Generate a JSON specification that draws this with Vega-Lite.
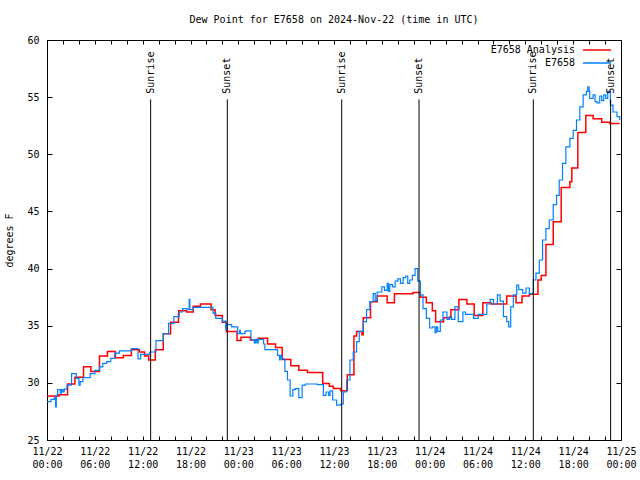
{
  "$schema": "https://vega.github.io/schema/vega-lite/v6.json",
  "width": 574,
  "height": 400,
  "autosize": {"type": "none"},
  "padding": {"left": 47, "top": 40, "right": 19, "bottom": 40},
  "title": {"text": "Dew Point for E7658 on 2024-Nov-22 (time in UTC)", "font": "DejaVu Sans Mono", "fontSize": 10, "fontWeight": "normal", "color": "black", "offset": 10},
  "config": {
    "view": {"stroke": "black", "strokeWidth": 1},
    "font": "DejaVu Sans Mono",
    "axis": {"labelFont": "DejaVu Sans Mono", "labelFontSize": 10, "labelColor": "black", "titleFont": "DejaVu Sans Mono", "titleFontSize": 10, "titleFontWeight": "normal", "titleColor": "black", "tickColor": "black", "domain": false, "grid": false},
    "legend": {"labelFont": "DejaVu Sans Mono", "labelFontSize": 10, "labelColor": "black"}
  },
  "datasets": {
    "analysis": [
      {"t":"2024-11-22T00:00:00Z","v":28.85},{"t":"2024-11-22T01:30:00Z","v":28.95},{"t":"2024-11-22T02:35:00Z","v":29.9},{"t":"2024-11-22T03:30:00Z","v":30.5},
      {"t":"2024-11-22T04:35:00Z","v":31.4},{"t":"2024-11-22T05:30:00Z","v":31.0},{"t":"2024-11-22T06:35:00Z","v":32.35},{"t":"2024-11-22T07:35:00Z","v":32.75},
      {"t":"2024-11-22T08:35:00Z","v":32.2},{"t":"2024-11-22T09:35:00Z","v":32.4},{"t":"2024-11-22T10:35:00Z","v":32.9},{"t":"2024-11-22T11:35:00Z","v":32.7},
      {"t":"2024-11-22T12:15:00Z","v":32.35},{"t":"2024-11-22T12:45:00Z","v":32.0},{"t":"2024-11-22T13:35:00Z","v":32.9},{"t":"2024-11-22T14:35:00Z","v":34.3},
      {"t":"2024-11-22T15:30:00Z","v":35.3},{"t":"2024-11-22T16:30:00Z","v":36.3},{"t":"2024-11-22T17:30:00Z","v":36.2},{"t":"2024-11-22T18:20:00Z","v":36.7},
      {"t":"2024-11-22T19:15:00Z","v":36.9},{"t":"2024-11-22T20:35:00Z","v":36.4},{"t":"2024-11-22T21:05:00Z","v":35.9},{"t":"2024-11-22T22:00:00Z","v":35.3},
      {"t":"2024-11-22T22:30:00Z","v":34.5},{"t":"2024-11-22T23:50:00Z","v":33.7},{"t":"2024-11-23T00:20:00Z","v":34.0},{"t":"2024-11-23T01:30:00Z","v":33.75},
      {"t":"2024-11-23T02:30:00Z","v":33.9},{"t":"2024-11-23T03:40:00Z","v":33.4},{"t":"2024-11-23T04:40:00Z","v":33.1},{"t":"2024-11-23T05:30:00Z","v":32.05},
      {"t":"2024-11-23T06:35:00Z","v":31.5},{"t":"2024-11-23T07:35:00Z","v":31.1},{"t":"2024-11-23T08:40:00Z","v":30.9},{"t":"2024-11-23T10:35:00Z","v":29.95},
      {"t":"2024-11-23T11:25:00Z","v":29.7},{"t":"2024-11-23T11:55:00Z","v":29.5},{"t":"2024-11-23T12:50:00Z","v":29.3},{"t":"2024-11-23T13:40:00Z","v":30.7},
      {"t":"2024-11-23T14:30:00Z","v":34.1},{"t":"2024-11-23T14:50:00Z","v":34.5},{"t":"2024-11-23T15:30:00Z","v":34.2},{"t":"2024-11-23T15:40:00Z","v":35.7},
      {"t":"2024-11-23T16:35:00Z","v":37.1},{"t":"2024-11-23T17:25:00Z","v":37.6},{"t":"2024-11-23T18:40:00Z","v":37.0},{"t":"2024-11-23T19:35:00Z","v":37.8},
      {"t":"2024-11-23T21:55:00Z","v":37.9},{"t":"2024-11-23T22:50:00Z","v":37.5},{"t":"2024-11-23T23:35:00Z","v":37.0},{"t":"2024-11-24T00:20:00Z","v":36.3},
      {"t":"2024-11-24T00:45:00Z","v":35.35},{"t":"2024-11-24T01:45:00Z","v":35.7},{"t":"2024-11-24T02:40:00Z","v":36.4},{"t":"2024-11-24T03:40:00Z","v":37.3},
      {"t":"2024-11-24T04:40:00Z","v":36.9},{"t":"2024-11-24T05:35:00Z","v":35.9},{"t":"2024-11-24T06:40:00Z","v":37.0},{"t":"2024-11-24T07:40:00Z","v":36.9},
      {"t":"2024-11-24T09:40:00Z","v":37.6},{"t":"2024-11-24T10:50:00Z","v":37.0},{"t":"2024-11-24T11:35:00Z","v":37.6},{"t":"2024-11-24T12:30:00Z","v":37.75},
      {"t":"2024-11-24T13:35:00Z","v":39.0},{"t":"2024-11-24T14:00:00Z","v":39.4},{"t":"2024-11-24T14:35:00Z","v":42.1},{"t":"2024-11-24T15:30:00Z","v":44.1},
      {"t":"2024-11-24T16:30:00Z","v":47.1},{"t":"2024-11-24T17:35:00Z","v":47.6},{"t":"2024-11-24T17:50:00Z","v":48.8},{"t":"2024-11-24T18:35:00Z","v":51.9},
      {"t":"2024-11-24T19:35:00Z","v":53.4},{"t":"2024-11-24T20:30:00Z","v":53.1},{"t":"2024-11-24T21:35:00Z","v":52.8},{"t":"2024-11-24T22:35:00Z","v":52.7},
      {"t":"2024-11-24T23:50:00Z","v":52.7}
    ],
    "obs": [
      {"t":"2024-11-22T00:00:00Z","v":28.35},{"t":"2024-11-22T00:30:00Z","v":28.55},{"t":"2024-11-22T00:55:00Z","v":28.7},{"t":"2024-11-22T01:05:00Z","v":27.9},
      {"t":"2024-11-22T01:10:00Z","v":28.9},{"t":"2024-11-22T01:20:00Z","v":29.4},{"t":"2024-11-22T01:40:00Z","v":29.1},{"t":"2024-11-22T01:50:00Z","v":29.4},
      {"t":"2024-11-22T02:00:00Z","v":29.2},{"t":"2024-11-22T02:10:00Z","v":29.45},{"t":"2024-11-22T02:30:00Z","v":29.8},{"t":"2024-11-22T03:05:00Z","v":30.8},
      {"t":"2024-11-22T03:40:00Z","v":30.4},{"t":"2024-11-22T04:00:00Z","v":29.8},{"t":"2024-11-22T04:10:00Z","v":30.1},{"t":"2024-11-22T04:30:00Z","v":30.45},
      {"t":"2024-11-22T05:25:00Z","v":30.8},{"t":"2024-11-22T06:00:00Z","v":31.1},{"t":"2024-11-22T06:35:00Z","v":31.4},{"t":"2024-11-22T07:00:00Z","v":31.7},
      {"t":"2024-11-22T07:30:00Z","v":31.85},{"t":"2024-11-22T08:00:00Z","v":32.15},{"t":"2024-11-22T08:30:00Z","v":32.6},{"t":"2024-11-22T09:05:00Z","v":32.8},
      {"t":"2024-11-22T10:35:00Z","v":33.0},{"t":"2024-11-22T11:25:00Z","v":32.1},{"t":"2024-11-22T11:45:00Z","v":32.5},{"t":"2024-11-22T12:20:00Z","v":32.5},
      {"t":"2024-11-22T12:55:00Z","v":32.7},{"t":"2024-11-22T13:40:00Z","v":33.7},{"t":"2024-11-22T14:35:00Z","v":34.3},{"t":"2024-11-22T15:15:00Z","v":35.2},
      {"t":"2024-11-22T15:55:00Z","v":35.8},{"t":"2024-11-22T16:35:00Z","v":36.2},{"t":"2024-11-22T17:00:00Z","v":36.5},{"t":"2024-11-22T17:35:00Z","v":36.4},
      {"t":"2024-11-22T17:50:00Z","v":37.3},{"t":"2024-11-22T17:55:00Z","v":36.4},{"t":"2024-11-22T18:20:00Z","v":36.6},{"t":"2024-11-22T20:50:00Z","v":36.1},
      {"t":"2024-11-22T21:10:00Z","v":35.65},{"t":"2024-11-22T22:00:00Z","v":35.4},{"t":"2024-11-22T22:25:00Z","v":34.7},{"t":"2024-11-22T22:30:00Z","v":35.1},
      {"t":"2024-11-22T23:10:00Z","v":34.9},{"t":"2024-11-22T23:55:00Z","v":34.3},{"t":"2024-11-23T00:10:00Z","v":34.6},{"t":"2024-11-23T00:15:00Z","v":34.3},
      {"t":"2024-11-23T00:50:00Z","v":34.5},{"t":"2024-11-23T01:00:00Z","v":34.55},{"t":"2024-11-23T01:35:00Z","v":33.75},{"t":"2024-11-23T02:00:00Z","v":33.5},
      {"t":"2024-11-23T02:10:00Z","v":33.8},{"t":"2024-11-23T02:20:00Z","v":33.5},{"t":"2024-11-23T02:30:00Z","v":33.8},{"t":"2024-11-23T03:10:00Z","v":33.4},
      {"t":"2024-11-23T03:20:00Z","v":32.9},{"t":"2024-11-23T04:55:00Z","v":32.4},{"t":"2024-11-23T05:10:00Z","v":32.0},{"t":"2024-11-23T05:15:00Z","v":32.4},
      {"t":"2024-11-23T05:25:00Z","v":32.1},{"t":"2024-11-23T05:50:00Z","v":31.0},{"t":"2024-11-23T06:10:00Z","v":30.25},{"t":"2024-11-23T06:30:00Z","v":28.85},
      {"t":"2024-11-23T06:50:00Z","v":29.4},{"t":"2024-11-23T07:10:00Z","v":29.5},{"t":"2024-11-23T07:35:00Z","v":28.7},{"t":"2024-11-23T08:00:00Z","v":29.8},
      {"t":"2024-11-23T08:25:00Z","v":29.9},{"t":"2024-11-23T09:55:00Z","v":29.85},{"t":"2024-11-23T10:40:00Z","v":28.9},{"t":"2024-11-23T11:00:00Z","v":29.2},
      {"t":"2024-11-23T11:20:00Z","v":28.9},{"t":"2024-11-23T11:30:00Z","v":29.3},{"t":"2024-11-23T11:50:00Z","v":28.5},{"t":"2024-11-23T12:20:00Z","v":28.05},
      {"t":"2024-11-23T12:50:00Z","v":28.15},{"t":"2024-11-23T13:10:00Z","v":29.2},{"t":"2024-11-23T13:35:00Z","v":30.25},{"t":"2024-11-23T14:00:00Z","v":32.0},
      {"t":"2024-11-23T14:25:00Z","v":32.7},{"t":"2024-11-23T14:50:00Z","v":33.6},{"t":"2024-11-23T15:10:00Z","v":34.5},{"t":"2024-11-23T15:40:00Z","v":35.35},
      {"t":"2024-11-23T16:05:00Z","v":36.4},{"t":"2024-11-23T16:30:00Z","v":37.1},{"t":"2024-11-23T16:55:00Z","v":37.8},{"t":"2024-11-23T17:10:00Z","v":37.2},
      {"t":"2024-11-23T17:25:00Z","v":37.95},{"t":"2024-11-23T18:00:00Z","v":38.4},{"t":"2024-11-23T18:20:00Z","v":38.1},{"t":"2024-11-23T18:40:00Z","v":38.7},
      {"t":"2024-11-23T18:50:00Z","v":38.0},{"t":"2024-11-23T19:00:00Z","v":38.6},{"t":"2024-11-23T19:20:00Z","v":38.4},{"t":"2024-11-23T19:40:00Z","v":38.9},
      {"t":"2024-11-23T20:00:00Z","v":39.1},{"t":"2024-11-23T20:20:00Z","v":38.7},{"t":"2024-11-23T20:40:00Z","v":39.2},{"t":"2024-11-23T21:00:00Z","v":39.35},
      {"t":"2024-11-23T21:15:00Z","v":38.7},{"t":"2024-11-23T21:30:00Z","v":39.0},{"t":"2024-11-23T21:50:00Z","v":39.4},{"t":"2024-11-23T22:10:00Z","v":40.0},
      {"t":"2024-11-23T22:30:00Z","v":38.9},{"t":"2024-11-23T22:50:00Z","v":37.7},{"t":"2024-11-23T23:10:00Z","v":36.5},{"t":"2024-11-23T23:35:00Z","v":35.65},
      {"t":"2024-11-24T00:00:00Z","v":34.8},{"t":"2024-11-24T00:20:00Z","v":34.9},{"t":"2024-11-24T00:40:00Z","v":34.4},{"t":"2024-11-24T00:50:00Z","v":34.9},
      {"t":"2024-11-24T01:00:00Z","v":34.5},{"t":"2024-11-24T01:20:00Z","v":35.5},{"t":"2024-11-24T01:40:00Z","v":36.2},{"t":"2024-11-24T02:10:00Z","v":35.55},
      {"t":"2024-11-24T02:30:00Z","v":35.8},{"t":"2024-11-24T02:45:00Z","v":35.55},{"t":"2024-11-24T03:10:00Z","v":36.65},{"t":"2024-11-24T03:35:00Z","v":35.35},
      {"t":"2024-11-24T04:10:00Z","v":36.2},{"t":"2024-11-24T04:30:00Z","v":36.0},{"t":"2024-11-24T05:30:00Z","v":35.65},{"t":"2024-11-24T06:05:00Z","v":36.0},
      {"t":"2024-11-24T07:10:00Z","v":36.9},{"t":"2024-11-24T07:35:00Z","v":37.3},{"t":"2024-11-24T08:00:00Z","v":36.9},{"t":"2024-11-24T08:30:00Z","v":37.7},
      {"t":"2024-11-24T08:50:00Z","v":37.15},{"t":"2024-11-24T09:15:00Z","v":35.8},{"t":"2024-11-24T09:40:00Z","v":35.35},{"t":"2024-11-24T09:55:00Z","v":34.9},
      {"t":"2024-11-24T10:10:00Z","v":36.65},{"t":"2024-11-24T10:30:00Z","v":37.7},{"t":"2024-11-24T10:55:00Z","v":38.55},{"t":"2024-11-24T11:10:00Z","v":38.15},
      {"t":"2024-11-24T11:40:00Z","v":37.85},{"t":"2024-11-24T12:05:00Z","v":38.3},{"t":"2024-11-24T12:30:00Z","v":37.8},{"t":"2024-11-24T13:00:00Z","v":39.0},
      {"t":"2024-11-24T13:20:00Z","v":39.6},{"t":"2024-11-24T13:45:00Z","v":40.75},{"t":"2024-11-24T14:10:00Z","v":42.5},{"t":"2024-11-24T14:35:00Z","v":43.5},
      {"t":"2024-11-24T15:00:00Z","v":44.25},{"t":"2024-11-24T15:30:00Z","v":45.6},{"t":"2024-11-24T15:55:00Z","v":46.4},{"t":"2024-11-24T16:15:00Z","v":47.75},
      {"t":"2024-11-24T16:40:00Z","v":49.2},{"t":"2024-11-24T17:05:00Z","v":50.65},{"t":"2024-11-24T17:35:00Z","v":51.4},{"t":"2024-11-24T18:00:00Z","v":52.1},
      {"t":"2024-11-24T18:25:00Z","v":53.0},{"t":"2024-11-24T18:50:00Z","v":54.15},{"t":"2024-11-24T19:15:00Z","v":55.2},{"t":"2024-11-24T19:40:00Z","v":55.5},
      {"t":"2024-11-24T19:50:00Z","v":55.9},{"t":"2024-11-24T20:00:00Z","v":55.5},{"t":"2024-11-24T20:05:00Z","v":54.9},{"t":"2024-11-24T20:30:00Z","v":55.2},
      {"t":"2024-11-24T20:45:00Z","v":54.6},{"t":"2024-11-24T21:00:00Z","v":54.5},{"t":"2024-11-24T21:20:00Z","v":55.1},{"t":"2024-11-24T21:35:00Z","v":54.7},
      {"t":"2024-11-24T21:50:00Z","v":55.2},{"t":"2024-11-24T22:05:00Z","v":54.9},{"t":"2024-11-24T22:20:00Z","v":55.5},{"t":"2024-11-24T22:40:00Z","v":54.3},
      {"t":"2024-11-24T23:00:00Z","v":53.7},{"t":"2024-11-24T23:30:00Z","v":53.3},{"t":"2024-11-24T23:50:00Z","v":53.0}
    ],
    "sun": [
      {"t":"2024-11-22T13:00:00Z","label":"Sunrise"},{"t":"2024-11-22T22:37:00Z","label":"Sunset"},
      {"t":"2024-11-23T12:58:00Z","label":"Sunrise"},{"t":"2024-11-23T22:40:00Z","label":"Sunset"},
      {"t":"2024-11-24T13:00:00Z","label":"Sunrise"},{"t":"2024-11-24T22:42:00Z","label":"Sunset"}
    ]
  },
  "resolve": {"axis": {"x": "independent", "y": "independent"}},
  "layer": [
    {
      "data": {"name": "analysis"},
      "mark": {"type": "line", "interpolate": "step-after", "strokeWidth": 1.5},
      "encoding": {
        "x": {"field": "t", "type": "temporal",
          "scale": {"type": "utc", "domain": [1732233600000, 1732492800000]},
          "axis": {"orient": "bottom", "title": null, "tickSize": -4, "tickCount": 40, "labelOverlap": false, "labelFlush": false, "labelPadding": 10, "labelBaseline": "top", "labelLineHeight": 13,
            "values": [1732233600000,1732240800000,1732248000000,1732255200000,1732262400000,1732269600000,1732276800000,1732284000000,1732291200000,1732298400000,1732305600000,1732312800000,1732320000000,1732327200000,1732334400000,1732341600000,1732348800000,1732356000000,1732363200000,1732370400000,1732377600000,1732384800000,1732392000000,1732399200000,1732406400000,1732413600000,1732420800000,1732428000000,1732435200000,1732442400000,1732449600000,1732456800000,1732464000000,1732471200000,1732478400000,1732485600000,1732492800000],
            "labelExpr": "utchours(datum.value) % 6 == 0 ? [utcFormat(datum.value, '%m/%d'), utcFormat(datum.value, '%H:%M')] : ''"}},
        "y": {"field": "v", "type": "quantitative",
          "scale": {"domain": [25, 60], "nice": false, "zero": false},
          "axis": {"orient": "left", "title": "degrees F", "values": [25, 30, 35, 40, 45, 50, 55, 60], "tickSize": -5, "labelPadding": 13, "titlePadding": 12}},
        "color": {"datum": "E7658 Analysis", "type": "nominal",
          "scale": {"domain": ["E7658 Analysis", "E7658"], "range": ["#ff0000", "#0080ff"]},
          "legend": {"title": null, "orient": "none", "legendX": 542, "legendY": 2, "symbolType": "M-2,0H2", "symbolSize": 196, "symbolStrokeWidth": 1.5, "labelAlign": "right", "labelOffset": -30, "rowPadding": 0, "padding": 0}}
      }
    },
    {
      "data": {"name": "obs"},
      "mark": {"type": "line", "interpolate": "step-after", "strokeWidth": 1.2},
      "encoding": {
        "x": {"field": "t", "type": "temporal",
          "axis": {"orient": "top", "title": null, "labels": false, "tickSize": -4, "tickCount": 40,
            "values": [1732233600000,1732240800000,1732248000000,1732255200000,1732262400000,1732269600000,1732276800000,1732284000000,1732291200000,1732298400000,1732305600000,1732312800000,1732320000000,1732327200000,1732334400000,1732341600000,1732348800000,1732356000000,1732363200000,1732370400000,1732377600000,1732384800000,1732392000000,1732399200000,1732406400000,1732413600000,1732420800000,1732428000000,1732435200000,1732442400000,1732449600000,1732456800000,1732464000000,1732471200000,1732478400000,1732485600000,1732492800000]}},
        "y": {"field": "v", "type": "quantitative",
          "axis": {"orient": "right", "title": null, "labels": false, "values": [25, 30, 35, 40, 45, 50, 55, 60], "tickSize": -5}},
        "color": {"datum": "E7658", "type": "nominal"}
      }
    },
    {
      "data": {"name": "sun"},
      "mark": {"type": "rule", "color": "black", "strokeWidth": 1},
      "encoding": {
        "x": {"field": "t", "type": "temporal", "axis": null},
        "y": {"datum": 25, "type": "quantitative", "axis": null},
        "y2": {"datum": 54.8}
      }
    },
    {
      "data": {"name": "sun"},
      "mark": {"type": "text", "angle": 270, "align": "left", "baseline": "middle", "font": "DejaVu Sans Mono", "fontSize": 10, "color": "black"},
      "encoding": {
        "x": {"field": "t", "type": "temporal", "axis": null},
        "y": {"datum": 55.3, "type": "quantitative", "axis": null},
        "text": {"field": "label"}
      }
    }
  ]
}
